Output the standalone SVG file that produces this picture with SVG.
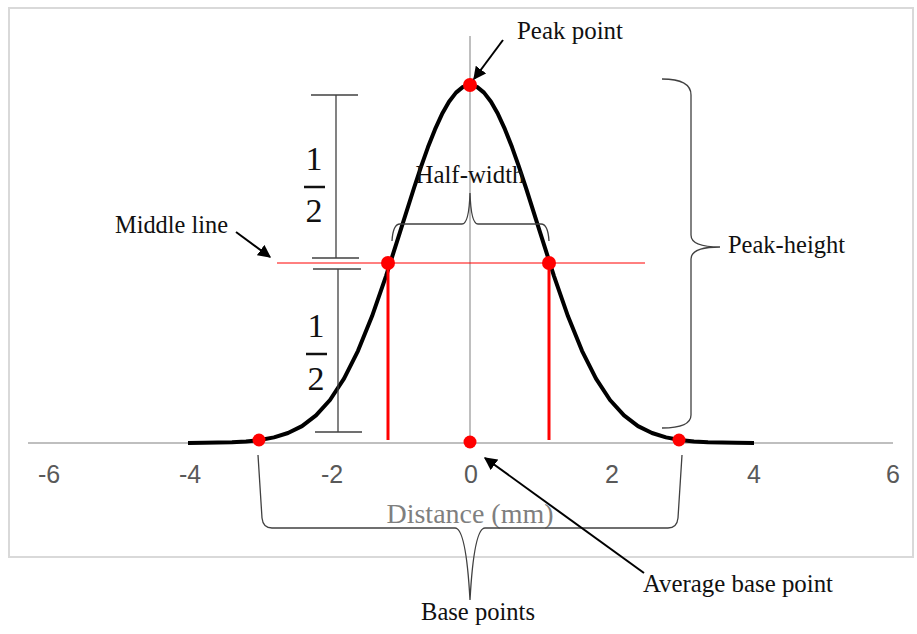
<svg xmlns="http://www.w3.org/2000/svg" width="917" height="634" viewBox="0 0 917 634">
<defs>
<style>
.lbl{font-family:"Liberation Serif","Times New Roman",serif;font-size:24.5px;fill:#111}
.tick{font-family:"Liberation Sans",Arial,sans-serif;font-size:25px;fill:#595959;text-anchor:middle}
.frac{font-family:"Liberation Serif","Times New Roman",serif;font-size:34px;fill:#111;text-anchor:middle}
.brace{fill:none;stroke:#404040;stroke-width:1.3}
.dot{fill:#ff0000}
.arrow{stroke:#000;stroke-width:2;marker-end:url(#ah)}
</style>
<marker id="ah" viewBox="0 0 10 10" refX="9" refY="5" markerWidth="6.5" markerHeight="6.5" orient="auto" markerUnits="strokeWidth">
<path d="M0,0 L10,5 L0,10 z" fill="#000"/>
</marker>
</defs>
<rect x="0" y="0" width="917" height="634" fill="#fff"/>
<rect x="9" y="8" width="904" height="549" fill="none" stroke="#d9d9d9" stroke-width="2"/>
<g id="axes">
<line x1="28" y1="443" x2="893" y2="443" stroke="#bfbfbf" stroke-width="2"/>
<line x1="470" y1="36" x2="470" y2="443" stroke="#bfbfbf" stroke-width="2"/>
<text class="tick" x="49" y="483">-6</text>
<text class="tick" x="190" y="483">-4</text>
<text class="tick" x="332" y="483">-2</text>
<text class="tick" x="471" y="483">0</text>
<text class="tick" x="612" y="483">2</text>
<text class="tick" x="754" y="483">4</text>
<text class="tick" x="893" y="483">6</text>
<text x="470" y="523" text-anchor="middle" font-family="Liberation Serif, serif" font-size="27" fill="#7f7f7f" textLength="167" lengthAdjust="spacingAndGlyphs">Distance (mm)</text>
</g>
<g id="middle-line">
<line x1="277" y1="263" x2="645" y2="263" stroke="#ff0000" stroke-width="1"/>
</g>
<g id="curve">
<polyline fill="none" stroke="#000" stroke-width="4" stroke-linejoin="round" points="188,443 204,442.8 218,442.6 232,442.2 246,441.4 260,440 274,437.4 288,433 302,426.1 316,415.4 330,400 344,378.7 358,350.8 372,316.3 386,276.1 400,232.2 414,188 421,166.9 428,147.1 435,129.4 442,114.1 449,101.7 456,92.6 463,86.9 470,85 477,86.9 484,92.6 491,101.7 498,114.1 505,129.4 512,147.1 519,166.9 526,188 540,232.2 554,276.1 568,316.3 582,350.8 596,378.7 610,400 624,415.4 638,426.1 652,433 666,437.4 680,440 694,441.4 708,442.2 722,442.6 736,442.8 754,443"/>
</g>
<g id="half-width-lines">
<line x1="388" y1="263" x2="388" y2="440" stroke="#ff0000" stroke-width="3"/>
<line x1="549" y1="263" x2="549" y2="440" stroke="#ff0000" stroke-width="3"/>
</g>
<g id="points">
<circle class="dot" cx="470" cy="85" r="7"/>
<circle class="dot" cx="388" cy="263" r="7"/>
<circle class="dot" cx="549" cy="263" r="7"/>
<circle class="dot" cx="259" cy="440" r="6.5"/>
<circle class="dot" cx="470" cy="442" r="6.5"/>
<circle class="dot" cx="679" cy="440" r="6.5"/>
</g>
<g id="upper-half">
<line x1="311" y1="95" x2="358" y2="95" stroke="#404040" stroke-width="1.3"/>
<line x1="336" y1="95" x2="336" y2="258" stroke="#404040" stroke-width="1.3"/>
<line x1="312" y1="258" x2="359" y2="258" stroke="#404040" stroke-width="1.3"/>
<text class="frac" x="314" y="170">1</text>
<line x1="304" y1="187" x2="325" y2="187" stroke="#111" stroke-width="2.5"/>
<text class="frac" x="314" y="222">2</text>
</g>
<g id="lower-half">
<line x1="313" y1="269" x2="361" y2="269" stroke="#404040" stroke-width="1.3"/>
<line x1="338" y1="269" x2="338" y2="432" stroke="#404040" stroke-width="1.3"/>
<line x1="315" y1="432" x2="362" y2="432" stroke="#404040" stroke-width="1.3"/>
<text class="frac" x="316" y="337">1</text>
<line x1="306" y1="354" x2="327" y2="354" stroke="#111" stroke-width="2.5"/>
<text class="frac" x="316" y="390">2</text>
</g>
<g id="half-width">
<path class="brace" d="M392,241 Q393,224 400,224 L462,224 Q469,224 470,193 Q471,224 478,224 L541,224 Q548,224 549,241"/>
<text class="lbl" x="470" y="183" text-anchor="middle" textLength="109" lengthAdjust="spacingAndGlyphs">Half-width</text>
</g>
<g id="peak-height">
<path class="brace" d="M662,79 Q691,79 691,95 L691,235 Q691,247 720,247 Q691,247 691,259 L691,415 Q691,428 662,428"/>
<text class="lbl" x="728" y="253" textLength="117" lengthAdjust="spacingAndGlyphs">Peak-height</text>
</g>
<g id="base-points">
<path class="brace" d="M258,455 L262,518 Q263,528 272,528 L455,528 Q466,528 470,600 Q474,528 485,528 L668,528 Q677,528 678,518 L682,455"/>
<text class="lbl" x="478" y="620" text-anchor="middle" textLength="114" lengthAdjust="spacingAndGlyphs">Base points</text>
</g>
<g id="peak-point">
<text class="lbl" x="517" y="39" textLength="106" lengthAdjust="spacingAndGlyphs">Peak point</text>
</g>
<g id="middle-line-label">
<text class="lbl" x="115" y="233" textLength="113" lengthAdjust="spacingAndGlyphs">Middle line</text>
</g>
<g id="average-base-point">
<text class="lbl" x="643" y="592" textLength="190" lengthAdjust="spacingAndGlyphs">Average base point</text>
</g>
<g id="connectors">
<line class="arrow" x1="503" y1="40" x2="474" y2="79"/>
<line class="arrow" x1="236" y1="232" x2="270" y2="257"/>
<line class="arrow" x1="644" y1="573" x2="485" y2="458"/>
</g>
</svg>
